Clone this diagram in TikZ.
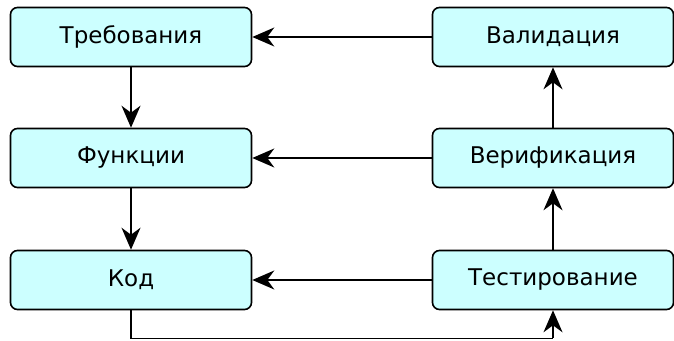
\documentclass[tikz,border=0pt]{standalone}
\usepackage{fontspec}
\setmainfont{DejaVu Sans}
\usetikzlibrary{arrows.meta}
\definecolor{boxfill}{RGB}{204,255,255}
\begin{document}
\begin{tikzpicture}[x=1pt,y=-1pt,
  box/.style={draw=black,line width=1.6pt,fill=boxfill,rounded corners=7pt,
    minimum width=241pt,minimum height=59pt,inner sep=0pt,font=\fontsize{23}{26}\selectfont},
  conn/.style={line width=1.4pt,-{Stealth[length=22pt,width=19pt,inset=7pt]}},
  plain/.style={line width=1.4pt}]
\useasboundingbox (0,0) rectangle (674,340);
\node[box] (req) at (131,37) {Требования};
\node[box] (fun) at (131,158) {Функции};
\node[box] (code) at (131,280) {Код};
\node[box] (val) at (553,37) {Валидация};
\node[box] (ver) at (553,158) {Верификация};
\node[box] (test) at (553,280) {Тестирование};
\draw[conn] (val) -- (req);
\draw[conn] (ver) -- (fun);
\draw[conn] (test) -- (code);
\draw[conn] (req) -- (fun);
\draw[conn] (fun) -- (code);
\draw[conn] (ver) -- (val);
\draw[conn] (test) -- (ver);
\coordinate (c1) at (131,338.3);
\coordinate (c2) at (553,338.3);
\draw[plain] (code.south) -- (c1) -- (c2);
\draw[conn] (c2) -- (test.south);
\end{tikzpicture}
\end{document}
